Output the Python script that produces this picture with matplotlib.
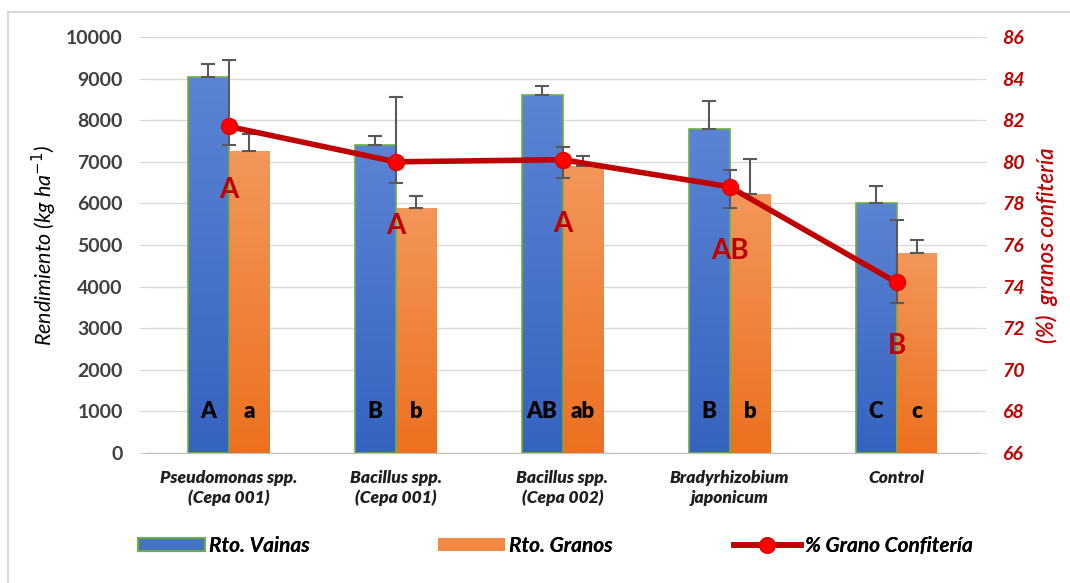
import numpy as np
import matplotlib
matplotlib.use("Agg")
import matplotlib.pyplot as plt
from matplotlib.colors import LinearSegmentedColormap
from matplotlib.lines import Line2D
from matplotlib.patches import Patch

# ---- data -------------------------------------------------------------
categories = ["Pseudomonas spp.\n(Cepa 001)", "Bacillus spp.\n(Cepa 001)",
              "Bacillus spp.\n(Cepa 002)", "Bradyrhizobium\njaponicum", "Control"]
vainas = [9050, 7400, 8600, 7800, 6000]
vainas_err = [300, 220, 220, 670, 420]
granos = [7250, 5900, 6900, 6230, 4800]
granos_err = [430, 280, 250, 840, 320]
confiteria = [81.7, 80.0, 80.1, 78.8, 74.2]
confiteria_err_low = [0.9, 1.0, 0.9, 1.0, 1.0]
confiteria_err_high = [3.2, 3.1, 0.6, 0.8, 3.0]
letras_vainas = ["A", "B", "AB", "B", "C"]
letras_granos = ["a", "b", "ab", "b", "c"]
letras_confiteria = ["A", "A", "A", "AB", "B"]
left_ticks = list(range(0, 10001, 1000))
right_ticks = list(range(66, 87, 2))

plt.rcParams['font.family'] = ['Lato', 'DejaVu Sans']

RED = "#C00000"
GRAY = "#595959"

fig = plt.figure(figsize=(10.70, 5.83), dpi=100)
ax = fig.add_axes([145 / 1070, 1 - 453 / 583, (980 - 145) / 1070, (453 - 37) / 583])
ax2 = ax.twinx()

x = np.arange(len(categories))
w = 0.245

bars_v = ax.bar(x - w / 2, vainas, w, facecolor="none", edgecolor="#70AD47",
                linewidth=1.2, zorder=2)
bars_g = ax.bar(x + w / 2, granos, w, facecolor="none", edgecolor="none", zorder=2)

ax.set_xlim(-0.5, len(categories) - 0.5)
ax.set_ylim(0, 10000)


def gradient_fill(bars, bottom_color, top_color):
    cmap = LinearSegmentedColormap.from_list("grad", [bottom_color, top_color])
    grad = np.linspace(0, 1, 256).reshape(-1, 1)
    for b in bars:
        x0, y0 = b.get_x(), b.get_y()
        bw, bh = b.get_width(), b.get_height()
        im = ax.imshow(grad, cmap=cmap, origin="lower", aspect="auto",
                       extent=[x0, x0 + bw, y0, y0 + bh], zorder=1.9,
                       interpolation="bicubic")
        im.set_clip_path(b)


gradient_fill(bars_v, "#3563C0", "#5C84D4")
gradient_fill(bars_g, "#EC701F", "#F3975A")
ax.set_xlim(-0.5, len(categories) - 0.5)
ax.set_ylim(0, 10000)

# upper error bars on the yield bars
ax.errorbar(x - w / 2, vainas, yerr=[np.zeros(len(x)), vainas_err], fmt="none",
            ecolor=GRAY, elinewidth=1.5, capsize=5, capthick=1.5, zorder=3)
ax.errorbar(x + w / 2, granos, yerr=[np.zeros(len(x)), granos_err], fmt="none",
            ecolor=GRAY, elinewidth=1.5, capsize=5, capthick=1.5, zorder=3)

# significance letters at the base of the bars
for i in range(len(x)):
    ax.text(x[i] - w / 2, 1000, letras_vainas[i], ha="center", va="center",
            fontsize=16, fontweight="heavy", color="black", zorder=4)
    ax.text(x[i] + w / 2, 1000, letras_granos[i], ha="center", va="center",
            fontsize=16, fontweight="heavy", color="black", zorder=4)

# grid and axes styling
ax.set_yticks(left_ticks)
ax.yaxis.grid(True, color="#D9D9D9", linewidth=1.0)
ax.set_axisbelow(True)
for s in ["left", "right", "top"]:
    ax.spines[s].set_visible(False)
    ax2.spines[s].set_visible(False)
ax.spines["bottom"].set_color("#BFBFBF")
ax2.spines["bottom"].set_visible(False)
ax.tick_params(axis="y", length=4, color="#D9D9D9", labelsize=14,
               labelcolor="#404040", pad=12)
for lbl in ax.get_yticklabels():
    lbl.set_fontweight("bold")
ax.set_xticks(x)
ax.set_xticklabels(categories, fontsize=12.5, fontweight="heavy", style="italic",
                   color="#1F1F1F", linespacing=1.3)
ax.tick_params(axis="x", length=0, pad=12)
ax.set_ylabel("Rendimiento (kg ha$^{-1}$)", fontsize=15.5, style="italic",
              color="black", labelpad=5)

# secondary axis: % grano confitería
ax2.set_ylim(66, 86)
ax2.set_yticks(right_ticks)
ax2.tick_params(axis="y", length=4, color="#D9D9D9", labelsize=14,
                labelcolor=RED, pad=12)
for lbl in ax2.get_yticklabels():
    lbl.set_fontweight("bold")
    lbl.set_style("italic")
ax2.set_ylabel("(%)  granos confitería", fontsize=16, style="italic",
               fontweight="semibold", color=RED, labelpad=8)

ax2.errorbar(x, confiteria, yerr=[confiteria_err_low, confiteria_err_high],
             fmt="none", ecolor=GRAY, elinewidth=1.5, capsize=5, capthick=1.5,
             zorder=2)
ax2.plot(x, confiteria, color=RED, linewidth=4, marker="o", markersize=11.5,
         markerfacecolor="#FF0000", markeredgecolor="#E00000", zorder=3)
for i in range(len(x)):
    ax2.annotate(letras_confiteria[i], (x[i], confiteria[i]),
                 xytext=(0, -46), textcoords="offset points", ha="center",
                 va="center", fontsize=20, fontweight="bold", color=RED, zorder=4)

# legend entries along the bottom
handles = [
    Patch(facecolor="#4472C4", edgecolor="#70AD47", linewidth=1.5),
    Patch(facecolor="#F08A45", edgecolor="none"),
    Line2D([0], [0], color=RED, linewidth=4, marker="o", markersize=11,
           markerfacecolor="#FF0000", markeredgecolor="#E00000"),
]
labels = ["Rto. Vainas", "Rto. Granos", "% Grano Confitería"]
legend_x = [138, 438, 734]
for h, lab, lx in zip(handles, labels, legend_x):
    fig.add_artist(fig.legend([h], [lab], loc="center left",
                              bbox_to_anchor=(lx / 1070, 1 - 546 / 583),
                              frameon=False, borderpad=0, borderaxespad=0,
                              handlelength=3.2, handleheight=0.6, handletextpad=0.2,
                              prop={"size": 15, "style": "italic", "weight": "bold"}))

# light outer frame on the top and left edges
fig.add_artist(Line2D([8 / 1070, 8 / 1070], [0, 1 - 12 / 583], transform=fig.transFigure,
                      color="#D9D9D9", linewidth=1.5))
fig.add_artist(Line2D([8 / 1070, 1], [1 - 12 / 583, 1 - 12 / 583], transform=fig.transFigure,
                      color="#D9D9D9", linewidth=1.5))

fig.savefig("out.png", dpi=100)
